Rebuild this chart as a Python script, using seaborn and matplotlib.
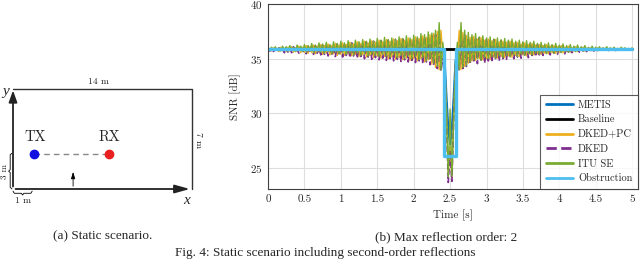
import numpy as np
import matplotlib
matplotlib.use("Agg")
import matplotlib.pyplot as plt
import seaborn as sns

# time grid of the noisy series (0.025 s steps)
t = np.round(np.arange(0, 5.0001, 0.025), 4)

itu_se = [
    35.95, 35.80, 36.05, 35.75, 36.10, 35.80, 36.00, 35.70, 36.15, 35.80,
    36.10, 35.70, 36.20, 35.75, 36.05, 35.65, 36.25, 35.75, 36.15, 35.65,
    36.30, 35.60, 36.20, 35.70, 36.40, 35.55, 36.25, 35.65, 36.45, 35.60,
    36.35, 35.50, 36.50, 35.65, 36.30, 35.45, 36.55, 35.60, 36.40, 35.45,
    36.60, 35.55, 36.45, 35.40, 36.65, 35.50, 36.40, 35.35, 36.70, 35.50,
    36.55, 35.30, 36.75, 35.45, 36.60, 35.25, 36.80, 35.40, 36.60, 35.30,
    36.85, 35.20, 36.70, 35.40, 36.95, 35.25, 36.75, 35.15, 36.90, 35.35,
    36.80, 35.10, 37.00, 35.30, 36.85, 35.05, 37.10, 35.25, 36.90, 35.00,
    37.15, 35.20, 37.00, 34.90, 37.30, 35.10, 37.20, 34.80, 37.45, 35.00,
    37.35, 34.60, 37.60, 34.30, 38.30, 34.00, 36.50, 34.80, 30.00, 24.20,
    30.40, 24.30, 29.50, 34.50, 36.50, 34.00, 38.30, 34.20, 37.60, 34.40,
    37.40, 34.70, 37.20, 34.90, 37.30, 35.00, 37.00, 34.85, 37.10, 35.10,
    36.90, 35.00, 37.00, 35.20, 36.80, 35.05, 36.90, 35.25, 36.75, 35.10,
    36.85, 35.30, 36.70, 35.15, 36.80, 35.35, 36.60, 35.20, 36.70, 35.40,
    36.55, 35.30, 36.65, 35.45, 36.50, 35.35, 36.60, 35.50, 36.40, 35.40,
    36.50, 35.55, 36.35, 35.45, 36.45, 35.60, 36.30, 35.50, 36.40, 35.60,
    36.25, 35.55, 36.35, 35.65, 36.20, 35.60, 36.30, 35.70, 36.15, 35.65,
    36.25, 35.75, 36.10, 35.70, 36.20, 35.80, 36.05, 35.75, 36.15, 35.80,
    36.05, 35.75, 36.10, 35.80, 36.00, 35.80, 36.10, 35.85, 36.00, 35.80,
    36.05, 35.85, 35.95, 35.80, 36.05, 35.85, 36.00, 35.85, 35.95, 35.85,
    36.00,
]

dked_pc = [
    35.80, 35.95, 35.70, 36.00, 35.75, 35.95, 35.65, 36.05, 35.80, 35.95,
    35.65, 36.05, 35.70, 36.10, 35.60, 36.00, 35.65, 36.15, 35.55, 36.05,
    35.60, 36.20, 35.50, 36.10, 35.55, 36.25, 35.45, 36.15, 35.60, 36.30,
    35.40, 36.20, 35.50, 36.35, 35.35, 36.20, 35.45, 36.40, 35.30, 36.25,
    35.40, 36.45, 35.30, 36.30, 35.45, 36.50, 35.25, 36.35, 35.40, 36.55,
    35.20, 36.40, 35.35, 36.60, 35.15, 36.45, 35.30, 36.65, 35.10, 36.50,
    35.25, 36.70, 35.05, 36.55, 35.20, 36.75, 35.00, 36.60, 35.15, 36.80,
    34.95, 36.65, 35.10, 36.85, 34.90, 36.70, 35.05, 36.90, 34.85, 36.75,
    35.00, 37.00, 34.80, 36.85, 35.00, 37.10, 34.70, 36.95, 34.90, 37.20,
    34.50, 37.30, 34.20, 37.50, 34.00, 37.60, 35.20, 34.60, 30.50, 24.60,
    27.00, 24.10, 30.20, 34.70, 35.00, 37.60, 34.00, 37.40, 34.30, 37.10,
    34.60, 36.95, 34.80, 37.05, 34.85, 36.80, 35.00, 36.95, 34.90, 36.70,
    35.00, 36.80, 34.95, 36.65, 35.15, 36.75, 35.05, 36.55, 35.20, 36.60,
    35.10, 36.50, 35.25, 36.60, 35.15, 36.45, 35.30, 36.50, 35.20, 36.35,
    35.35, 36.45, 35.25, 36.30, 35.40, 36.40, 35.35, 36.25, 35.45, 36.30,
    35.40, 36.20, 35.50, 36.30, 35.45, 36.15, 35.55, 36.20, 35.50, 36.10,
    35.60, 36.20, 35.55, 36.05, 35.65, 36.15, 35.60, 36.00, 35.70, 36.10,
    35.65, 35.95, 35.75, 36.05, 35.70, 35.95, 35.80, 36.00, 35.75, 35.90,
    35.80, 36.00, 35.75, 35.95, 35.85, 35.95, 35.80, 35.90, 35.85, 35.95,
    35.80, 35.90, 35.85, 35.95, 35.80, 35.90, 35.85, 35.90, 35.85, 35.90,
    35.85,
]

dked = [
    35.85, 35.70, 35.95, 35.65, 35.90, 35.60, 36.00, 35.70, 35.85, 35.55,
    36.00, 35.60, 35.90, 35.55, 36.10, 35.65, 35.85, 35.50, 36.05, 35.60,
    35.95, 35.45, 36.15, 35.55, 36.00, 35.40, 36.20, 35.50, 35.95, 35.35,
    36.25, 35.40, 36.05, 35.25, 36.30, 35.35, 36.10, 35.20, 36.35, 35.30,
    36.20, 35.15, 36.40, 35.30, 36.25, 35.10, 36.45, 35.25, 36.30, 35.05,
    36.50, 35.20, 36.35, 35.00, 36.55, 35.15, 36.40, 34.95, 36.60, 35.10,
    36.45, 34.90, 36.65, 35.05, 36.50, 34.85, 36.70, 35.00, 36.55, 34.80,
    36.75, 34.95, 36.60, 34.75, 36.80, 34.90, 36.65, 34.70, 36.85, 34.85,
    36.70, 34.65, 36.90, 34.80, 36.75, 34.55, 37.00, 34.70, 36.85, 34.45,
    37.10, 34.40, 37.20, 34.10, 37.40, 33.90, 35.00, 34.30, 29.50, 23.70,
    26.60, 23.80, 29.80, 34.40, 35.10, 33.90, 37.40, 34.10, 37.20, 34.30,
    36.90, 34.50, 37.00, 34.65, 36.80, 34.55, 36.90, 34.75, 36.70, 34.60,
    36.85, 34.80, 36.60, 34.70, 36.75, 34.90, 36.55, 34.80, 36.65, 35.00,
    36.45, 34.95, 36.55, 35.10, 36.40, 35.00, 36.45, 35.15, 36.30, 35.05,
    36.40, 35.20, 36.25, 35.10, 36.35, 35.30, 36.20, 35.20, 36.30, 35.35,
    36.15, 35.30, 36.25, 35.45, 36.10, 35.35, 36.20, 35.50, 36.05, 35.40,
    36.15, 35.55, 36.00, 35.45, 36.10, 35.60, 35.95, 35.55, 36.05, 35.65,
    35.95, 35.60, 36.00, 35.70, 35.90, 35.65, 35.95, 35.75, 35.90, 35.70,
    35.95, 35.75, 35.90, 35.70, 35.95, 35.80, 35.90, 35.75, 35.90, 35.80,
    35.90, 35.75, 35.90, 35.80, 35.85, 35.80, 35.90, 35.80, 35.85, 35.80,
    35.85,
]

metis_t = [0.0, 2.375, 2.4, 2.425, 2.45, 2.475, 2.5, 2.525, 2.55, 2.575, 2.6, 2.625, 5.0]
metis = [35.85, 35.85, 35.4, 34.8, 31.5, 28.6, 27.2, 28.6, 31.5, 34.8, 35.4, 35.85, 35.85]

baseline_t = [0.0, 5.0]
baseline = [35.85, 35.85]

obstr_t = [0.0, 2.42, 2.42, 2.58, 2.58, 5.0]
obstr = [35.85, 35.85, 26.1, 26.1, 35.85, 35.85]

sns.set_style("whitegrid", {"grid.color": "#dedede", "axes.edgecolor": "#404040"})
plt.rcParams["font.family"] = ["cmr10", "DejaVu Serif"]
plt.rcParams["axes.formatter.use_mathtext"] = True

fig = plt.figure(figsize=(6.4, 2.59), dpi=100)

# ---------- (b) SNR plot ----------
ax = fig.add_axes([268 / 640, 70 / 259, 370 / 640, 185 / 259])
kw = dict(ax=ax, estimator=None, sort=False)
sns.lineplot(x=metis_t, y=metis, color="#0072BD", lw=1.6, label="METIS", **kw)
sns.lineplot(x=baseline_t, y=baseline, color="black", lw=2, label="Baseline", **kw)
sns.lineplot(x=t, y=dked_pc, color="#EDB120", lw=1.0, label="DKED+PC", **kw)
sns.lineplot(x=t, y=dked, color="#7E2F8E", lw=1.2, linestyle="--", dashes=(2.5, 1.5),
             label="DKED", **kw)
sns.lineplot(x=t, y=itu_se, color="#77AC30", lw=1.0, label="ITU SE", **kw)
sns.lineplot(x=obstr_t, y=obstr, color="#4DBEEE", lw=2.4, label="Obstruction", **kw)

ax.set_xlim(0, 5.08)
ax.set_ylim(23.1, 40)
ax.set_xticks(np.arange(0, 5.01, 0.5))
ax.set_xticklabels(["0", "0.5", "1", "1.5", "2", "2.5", "3", "3.5", "4", "4.5", "5"])
ax.set_yticks([25, 30, 35, 40])
ax.tick_params(labelsize=8, length=0, pad=4)
ax.set_xlabel("Time [s]", fontsize=8, labelpad=4)
ax.set_ylabel("SNR [dB]", fontsize=8, labelpad=6)
for s in ax.spines.values():
    s.set_linewidth(0.8)

leg = ax.legend(loc="lower right", fontsize=7.5, frameon=True, fancybox=False,
                borderaxespad=0, handlelength=2.6, labelspacing=0.5,
                borderpad=0.55, handletextpad=0.5)
leg.get_frame().set_edgecolor("#333333")
leg.get_frame().set_linewidth(0.8)
for line in leg.get_lines():
    line.set_linewidth(2)

# ---------- (a) static scenario ----------
ax2 = fig.add_axes([13 / 640, 70 / 259, 179 / 640, 100 / 259])
ax2.set_xlim(0, 14)
ax2.set_ylim(0, 7)
ax2.axis("off")

ax2.plot([0, 14, 14], [7, 7, 0], color="#333333", lw=1.0, clip_on=False)
ax2.annotate("", xy=(0, 7.1), xytext=(0, -0.02),
             arrowprops=dict(arrowstyle="-|>,head_length=0.7,head_width=0.25",
                             color="#222222", lw=1.3), annotation_clip=False)
ax2.annotate("", xy=(14.05, 0), xytext=(-0.02, 0),
             arrowprops=dict(arrowstyle="-|>,head_length=0.9,head_width=0.25",
                             color="#222222", lw=1.3), annotation_clip=False)
ax2.text(-0.55, 6.85, "y", fontsize=11, style="italic", ha="center", va="center",
         family=["Liberation Serif"])
ax2.text(13.6, -0.8, "x", fontsize=11, style="italic", ha="center", va="center",
         family=["Liberation Serif"])

ax2.plot([1.65, 7.5], [2.45, 2.45], color="#888888", lw=1.0, ls=(0, (4, 3)))
ax2.plot([1.65], [2.45], "o", color="#1010e0", ms=6, clip_on=False)
ax2.plot([7.5], [2.45], "o", color="#e82020", ms=6, clip_on=False)
ax2.text(1.7, 3.6, "TX", fontsize=10.5, ha="center", va="center")
ax2.text(7.55, 3.6, "RX", fontsize=10.5, ha="center", va="center")
ax2.annotate("", xy=(4.7, 1.4), xytext=(4.7, 0),
             arrowprops=dict(arrowstyle="-|>,head_length=0.4,head_width=0.12",
                             color="black", lw=0.6), annotation_clip=False)

ax2.text(6.7, 7.5, "14 m", fontsize=7, ha="center", va="center")
ax2.text(14.45, 3.45, "7 m", fontsize=7, ha="center", va="center", rotation=-90)
ax2.text(-0.62, 1.25, "3 m", fontsize=6.5, ha="center", va="center", rotation=90)
ax2.text(0.8, -0.85, "1 m", fontsize=7, ha="center", va="center")
# braces
ax2.plot([-0.08, -0.22, -0.22, -0.34, -0.22, -0.22, -0.08],
         [0.0, 0.12, 1.15, 1.25, 1.35, 2.4, 2.5], color="black", lw=0.6, clip_on=False)
ax2.plot([0.0, 0.1, 0.65, 0.75, 0.85, 1.4, 1.5],
         [-0.15, -0.3, -0.3, -0.42, -0.3, -0.3, -0.15], color="black", lw=0.6, clip_on=False)

# ---------- captions ----------
cap = dict(family=["Liberation Serif"], fontsize=9.5, ha="center", va="center")
fig.text(103 / 640, 1 - 236 / 259, "(a) Static scenario.", **cap)
fig.text(446 / 640, 1 - 237 / 259, "(b) Max reflection order: 2", **cap)
fig.text(325 / 640, 1 - 253 / 259, "Fig. 4: Static scenario including second-order reflections", **cap)

fig.savefig("out.png", dpi=100)
